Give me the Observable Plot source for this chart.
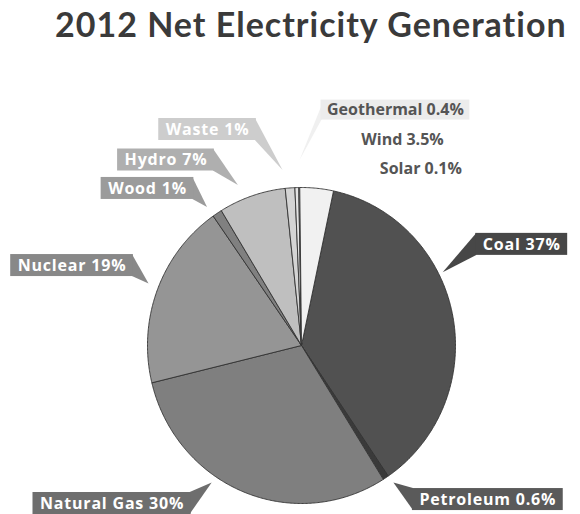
<!DOCTYPE html>
<html><head><meta charset="utf-8">
<script src="https://cdn.jsdelivr.net/npm/d3@7"></script>
<script src="https://cdn.jsdelivr.net/npm/@observablehq/plot@0.6"></script>
<style>
body{margin:0;background:#fff;}
#title{height:60px;box-sizing:border-box;padding-left:55px;font:bold 34px Lato,sans-serif;letter-spacing:1px;line-height:48px;color:#3a3a3a;white-space:nowrap;}
</style>
</head><body>
<div id="title">2012 Net Electricity Generation</div>
<div id="chart"></div>
<script>
// ---- data ----
const categories = ["Coal","Petroleum","Natural Gas","Nuclear","Wood","Hydro","Waste","Geothermal","Solar","Wind"];
const shares     = [37, 0.6, 30, 19, 1, 7, 1, 0.4, 0.1, 3.5];
const labels     = ["Coal 37%","Petroleum 0.6%","Natural Gas 30%","Nuclear 19%","Wood 1%","Hydro 7%","Waste 1%","Geothermal 0.4%","Solar 0.1%","Wind 3.5%"];

// ---- styles ----
const sliceColors = ["#515151","#3a3a3a","#7f7f7f","#959595","#808080","#bfbfbf","#d4d4d4","#e4e4e4","#f6f6f6","#f1f1f1"];
const boxColors   = ["#474747","#5a5a5a","#6e6e6e","#888888","#9b9b9b","#afafaf","#cdcdcd","#ececec",null,null];
const boxed       = [true,true,true,true,true,true,true,false,false,false];

// ---- label layout (data units, radius = 1) ----
const labelPos = [
  {x: 1.43, y: 0.64, tipx: 0.92, tipy: 0.46},
  {x: 1.21, y:-0.975, tipx: 0.60, tipy:-0.87},
  {x:-1.23, y:-1.00, tipx:-0.58, tipy:-0.87},
  {x:-1.49, y: 0.506, tipx:-0.99, tipy: 0.39},
  {x:-1.00, y: 0.994, tipx:-0.61, tipy: 0.873},
  {x:-0.88, y: 1.174, tipx:-0.41, tipy: 1.013},
  {x:-0.61, y: 1.367, tipx:-0.12, tipy: 1.108},
  {x: 0.61, y: 1.49, tipx:-0.01, tipy: 1.17},
  {x: 0.775, y: 1.115},
  {x: 0.656, y: 1.30}
];

const startDeg = 12;
const arcs = d3.pie().sort(null).value(d => d)
  .startAngle(startDeg * Math.PI / 180)
  .endAngle(startDeg * Math.PI / 180 + 2 * Math.PI)(shares);

const slices = arcs.map((a, i) => {
  const pts = [{x: 0, y: 0}];
  const n = Math.max(2, Math.ceil((a.endAngle - a.startAngle) / (Math.PI / 360)));
  for (let k = 0; k <= n; k++) {
    const t = a.startAngle + (a.endAngle - a.startAngle) * k / n;
    pts.push({x: Math.sin(t), y: Math.cos(t)});
  }
  pts.push({x: 0, y: 0});
  return {name: categories[i], pts, color: sliceColors[i]};
});

const rows = categories.map((c, i) => ({
  name: c, label: labels[i], boxed: boxed[i], box: boxColors[i], ...labelPos[i]
}));

const ctx = document.createElement("canvas").getContext("2d");
function measure(text, font, ls) {
  ctx.font = font;
  return ctx.measureText(text).width + ls * text.length;
}

const boxedRows = rows.filter(d => d.boxed);
const plainRows = rows.filter(d => !d.boxed);
const LS = 0.8;

const cy = 345 - 60;
const chart = Plot.plot({
  width: 580,
  height: 454,
  margin: 0,
  x: {domain: [-1, 1], range: [147, 455], axis: null},
  y: {domain: [-1, 1], range: [cy + 158, cy - 158], axis: null},
  marks: [
    ...slices.map(s => Plot.line(s.pts, {x: "x", y: "y", fill: s.color, stroke: "#333", strokeWidth: 0.9, strokeLinejoin: "round"})),
    Plot.text(plainRows, {
      x: "x", y: "y", text: "label", fill: "#555555",
      fontSize: 16, fontWeight: "bold", fontFamily: "Open Sans",
      textAnchor: "middle", lineAnchor: "middle",
      render: (index, scales, values, dims, context, next) => {
        const g = next(index, scales, values, dims, context);
        const wrap = d3.create("svg:g");
        for (const i of index) {
          const d = plainRows[i];
          if (!d.box) continue;
          const w = measure(d.label, "bold 16px 'Open Sans'", 0) + 12, h = 20;
          const cx = values.x[i], cyy = values.y[i];
          const x0 = cx - w / 2, y0 = cyy - h / 2;
          const tx = scales.x(d.tipx), ty = scales.y(d.tipy);
          wrap.append("path").attr("d", `M${x0 + 1},${y0 + 6}L${tx},${ty}L${x0 + 1},${y0 + h}Z`).attr("fill", "#f0f0f0");
          wrap.append("rect").attr("x", x0).attr("y", y0).attr("width", w).attr("height", h).attr("fill", d.box);
        }
        wrap.append(() => g);
        return wrap.node();
      }
    }),
    Plot.text(boxedRows, {
      x: "x", y: "y", text: "label", fill: "#ffffff",
      fontSize: 16, fontWeight: "bold", fontFamily: "Open Sans",
      textAnchor: "middle", lineAnchor: "middle",
      render: (index, scales, values, dims, context, next) => {
        const g = next(index, scales, values, dims, context);
        g.setAttribute("letter-spacing", LS);
        const wrap = d3.create("svg:g");
        for (const i of index) {
          const d = boxedRows[i];
          const w = measure(d.label, "bold 16px 'Open Sans'", LS) + 14, h = 22;
          const cx = values.x[i], cyy = values.y[i];
          const x0 = cx - w / 2, x1 = cx + w / 2, y0 = cyy - h / 2, y1 = cyy + h / 2;
          const tx = scales.x(d.tipx), ty = scales.y(d.tipy);
          const sx = tx < cx ? x0 + 1 : x1 - 1;
          wrap.append("path").attr("d", `M${sx},${y0}L${tx},${ty}L${sx},${y1}Z`).attr("fill", d.box);
          wrap.append("rect").attr("x", x0).attr("y", y0).attr("width", w).attr("height", h).attr("fill", d.box);
        }
        wrap.append(() => g);
        return wrap.node();
      }
    })
  ]
});
document.getElementById("chart").append(chart);
</script>
</body></html>
